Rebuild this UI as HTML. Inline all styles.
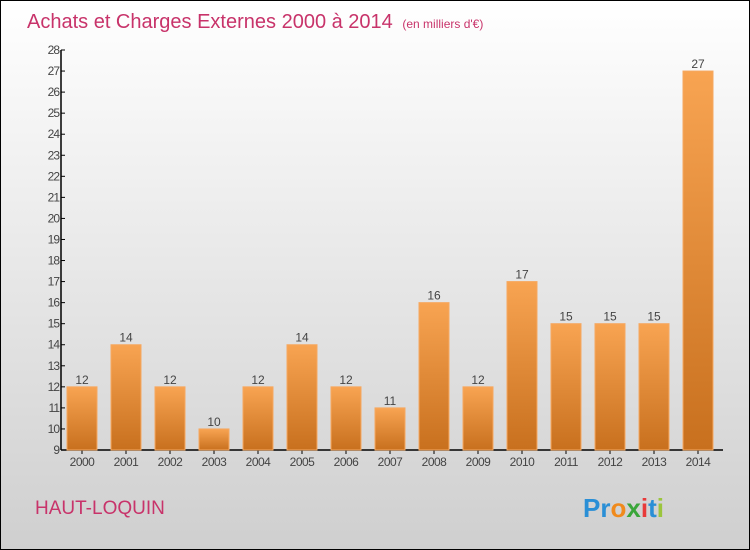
<!DOCTYPE html>
<html><head><meta charset="utf-8"><style>
html,body{margin:0;padding:0}
body{width:750px;height:550px;overflow:hidden;font-family:"Liberation Sans",sans-serif}
#wrap{position:relative;width:748px;height:548px;border:1px solid #000;background:linear-gradient(#ffffff,#cfcfcf)}
</style></head><body>
<div id="wrap">
<svg id="chart" width="748" height="548" style="position:absolute;left:0;top:0">
<defs><linearGradient id="bg" x1="0" y1="0" x2="0" y2="1"><stop offset="0" stop-color="#f8a452"/><stop offset="1" stop-color="#c8701e"/></linearGradient></defs>
<text x="26" y="27" font-size="20" fill="#c8336a">Achats et Charges Externes 2000 à 2014 <tspan font-size="12" dx="4">(en milliers d'€)</tspan></text>
<text x="34" y="513" font-size="19" fill="#c8336a">HAUT-LOQUIN</text>
<text x="582" y="516" font-size="26" font-weight="bold"><tspan fill="#2a8fd6">Pr</tspan><tspan fill="#f08a1c">o</tspan><tspan fill="#3aa63a">x</tspan><tspan fill="#e83a3a">i</tspan><tspan fill="#2a8fd6">t</tspan><tspan fill="#9bc53d">i</tspan></text>
<g id="axes"></g><g id="bars"></g>
</svg>
</div>
<script>
const categories=["2000","2001","2002","2003","2004","2005","2006","2007","2008","2009","2010","2011","2012","2013","2014"];
const values=[12,14,12,10,12,14,12,11,16,12,17,15,15,15,27];
const yTicks=[9,10,11,12,13,14,15,16,17,18,19,20,21,22,23,24,25,26,27,28];
const NS="http://www.w3.org/2000/svg";
const yMin=9,yMax=28,y0=449,y1=49,xLeft=60,x0=81,step=44,bw=30;
function y(v){return y0-(v-yMin)*(y0-y1)/(yMax-yMin);}
function x(i){return x0+i*step;}
function mk(t,a,p){const e=document.createElementNS(NS,t);for(const k in a)e.setAttribute(k,a[k]);p.appendChild(e);return e;}
const ax=document.getElementById('axes'),bars=document.getElementById('bars');
const yl=mk('line',{x1:xLeft,y1:y1,x2:xLeft,y2:y0,stroke:'#000','stroke-width':1.5},ax);

const xl=mk('line',{x1:xLeft,y1:y0,x2:722,y2:y0,stroke:'#000','stroke-width':1.5},ax);

yTicks.forEach(v=>{
 mk('line',{x1:xLeft,y1:y(v),x2:xLeft+4,y2:y(v),stroke:'#000'},ax);
 const t=mk('text',{x:xLeft-2,y:y(v)+4,'font-size':12,fill:'#444','text-anchor':'end','letter-spacing':'-1'},ax);
 t.textContent=v;
 
 
});
categories.forEach((c,i)=>{
 mk('line',{x1:x(i),y1:y0,x2:x(i),y2:y0+4,stroke:'#000'},ax);
 const t=mk('text',{x:x(i),y:y0+16,'font-size':12,fill:'#444','text-anchor':'middle','letter-spacing':'-0.5'},ax);
 t.textContent=c;
 
 
 const r=mk('rect',{x:x(i)-bw/2,y:y(values[i]),width:bw,height:y0-y(values[i]),fill:'url(#bg)',stroke:'#f6a860','stroke-width':1},bars);
 
 
 const l=mk('text',{x:x(i),y:y(values[i])-3,'font-size':12,fill:'#444','text-anchor':'middle'},bars);
 l.textContent=values[i];
 
 
});
</script>
</body></html>
